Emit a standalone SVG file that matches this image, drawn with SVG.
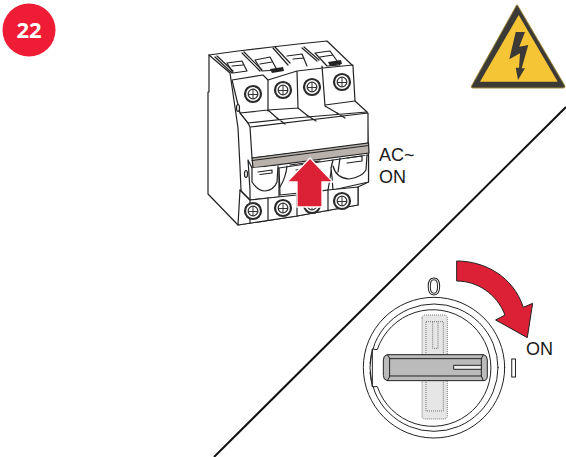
<svg xmlns="http://www.w3.org/2000/svg" width="566" height="457" viewBox="0 0 566 457">
<style>
.t{font-family:"Liberation Sans",Arial,sans-serif;font-size:18px;fill:#1a1a1a}
.l{fill:#fff;stroke:#222;stroke-width:1.200;stroke-linejoin:round;stroke-linecap:round}
.n{fill:none;stroke:#222;stroke-width:1.200;stroke-linejoin:round;stroke-linecap:round}
.kl{fill:#fff;stroke:#222;stroke-width:3;stroke-linejoin:round;stroke-linecap:round}
.kn{fill:none;stroke:#222;stroke-width:3;stroke-linejoin:round;stroke-linecap:round}
.r{fill:#dc2035;stroke:#222;stroke-width:3;stroke-linejoin:miter}
.d{fill:#e6e6e6;stroke:#555;stroke-width:2.400;stroke-dasharray:3 3}
</style>
<defs>
<filter id="gray" x="-20%" y="-20%" width="140%" height="140%"><feOffset dx="0" dy="0"/></filter>
<g id="screw">
<circle r="8" fill="#fff" stroke="#2a2a2a" stroke-width="2.200"/>
<circle r="4.800" fill="none" stroke="#333" stroke-width="1.300"/>
<path d="M-5 0.500H5M0 -5V5" fill="none" stroke="#333" stroke-width="1"/>
</g>
</defs>
<g id="divider"><line x1="566" y1="107" x2="214" y2="457" stroke="#111" stroke-width="2"/></g>

<g id="badge">
<circle cx="29" cy="30" r="26.500" fill="#ee1c35"/>
<text x="29" y="38" text-anchor="middle" style="font-family:'Open Sans',sans-serif;font-weight:700;font-size:22px;fill:#fff">22</text>
</g>

<g id="warning-sign">
<path d="M518 6 L565 86 Q565.500 88 563 88 L473 88 Q470.500 88 471.500 86 L515 8 Q517 3 518 6Z" fill="#3c3a36" stroke="#a38a3a" stroke-width="1"/>
<path d="M518.700 15 L557.700 81.700 L480 81.700Z" fill="#f6c536"/>
<path d="M515.700 32 L525 32 L519.300 46.700 L528.300 45 L521.700 68.300 L525 68.300 L518 80 L515.700 67.700 L519 67.700 L520 53.300 L509.300 59.300Z" fill="#3c3a36"/>
</g>

<g id="breaker">
<path class="l" d="M209 55 L238 51 L272 47 L298 44 L327 41 L353 66 L355 101 L367 112 L368.500 157 L368.500 182 L358 187 L358 205 L297 216 L238 225 L208 194 L208 92 L209 92Z"/>
<path class="n" d="M209 55 L230 73 L238 128 L240 167 L241 190 L240 223"/>
<path class="n" d="M232 80 L263 75 L268 80 L268 111 M232 80 L240 113 L268 110 L277 118 M240 113 L248 123"/>
<path class="n" d="M268 80 L297 71 M297 71 L323 68 L353 65 M297 71 L298 108 L308 116 M322 66 L325 106 L337 113 M268 110 L298 108 M325 105 L355 101"/>
<path class="n" d="M227 63 L242 61 L247 71 L233 73Z M232 66 L243 65 M255 60 L270 57 L277 70 L262 71Z M260 64 L272 62 M287 56 L302 54 L307 66 M293 59 L304 58 M315 53 L330 51 L340 65 L327 66Z M320 57 L333 55"/>
<path class="n" d="M215 57 L232 73 M217 56 L233 71 M242 53 L260 71 M244 52 L262 70 M273 48 L288 65 M275 47 L290 63 M302 48 L317 61 M304 47 L319 60"/>
<path d="M270 69 L283 67 L284 71 L272 73Z M328 62 L341 60 L342 64 L330 66Z" fill="#222"/>
<path class="l" d="M248 123 L250 127 L368 113 L368 144 L252 158 L250 127"/>
<path class="n" d="M277 118 L285 124 M308 116 L316 121 M337 113 L345 118 M240 113 L248 123 L295 118 L367 112"/>
<path d="M252 158 L368.500 143 L369 153 L253 168Z" fill="#b9b1ab" stroke="#222" stroke-width="1.200"/>
<path class="n" d="M252 160.500 L368.500 145.500"/>
<path class="l" d="M248 160 L250 190 L250 200 L279 197 L279 168 L252 168Z"/>
<path class="l" d="M252 168 L252 182 Q258 191 265 191 Q274 190 277 182 L278 166"/>
<path class="n" d="M258 172 L272 170 L272 173 L260 174.500"/>
<path class="l" d="M279 168 L280 195 L328 190 L333 160Z"/>
<path class="n" d="M280 187 Q286 177 287 166 M290 165 L320 161 M296 170 L312 168"/>
<path class="l" d="M333 160 L331 168 L332 177 L333 190 L368.500 182 L368.500 155Z"/>
<path class="l" d="M333 166 Q336 178 349 179 Q362 177 366 170 L367 155"/>
<path class="n" d="M340 158 L338 172 M347 158 L362 156 L362 161 L347 163"/>
<path class="l" d="M250 200 L268 198 L297 195 L328 190 L358 187 L358 205 L297 216 L238 225 L240 190Z"/>
<path class="n" d="M268 198 L268 220 M297 195 L297 216 M328 190 L328 211 M240 190 L250 200 L250 223"/>
<g id="screws">
<use href="#screw" x="253" y="94"/>
<use href="#screw" x="283" y="90"/>
<use href="#screw" x="312" y="87"/>
<use href="#screw" x="342" y="82"/>
<use href="#screw" x="253" y="211"/>
<use href="#screw" x="283" y="208"/>
<use href="#screw" x="312" y="205"/>
<use href="#screw" x="342" y="201"/>
</g>
<ellipse class="l" cx="238" cy="108" rx="1.500" ry="3.500"/>
<ellipse class="l" cx="246" cy="174" rx="1.500" ry="3.500"/>
<path d="M310 158 L287 182 L297 182 L297 207 L322 207 L322 182 L333 182Z" fill="#dc2035" stroke="#fff" stroke-width="1.300"/>
</g>

<g id="labels">
<text class="t" x="379" y="161">AC~</text>
<text class="t" x="379" y="183">ON</text>
</g>

<g id="knob" transform="translate(360 250) scale(.3333)">
<ellipse class="kl" cx="222" cy="353" rx="212" ry="211"/>
<ellipse class="kl" cx="222" cy="353" rx="192" ry="191"/>
<path class="kl" d="M52 298 A175 175 0 1 1 52 410 L37 410 L37 298Z" stroke-width="4"/>
<path d="M30 340 L37 298 M30 368 L37 410" class="kn"/>
<path class="d" d="M186 205 Q186 195 196 195 L252 195 Q262 195 262 205 L262 497 Q262 507 252 507 L196 507 Q186 507 186 497Z"/>
<path class="d" style="fill:none" d="M198 215 L250 215 L250 483 L198 483Z M218 215 L218 295 L234 295 L234 215"/>
<path d="M82 314 L370 314 Q382 316 382 330 L382 378 Q382 392 370 392 L82 392 Q70 390 70 376 L70 330 Q70 316 82 314Z" fill="#bbb" stroke="#222" stroke-width="3"/>
<path class="kn" d="M90 326 L364 326 L364 378 L90 378Z M82 314 L90 326 M82 392 L90 378 M370 314 L364 326 M370 392 L364 378"/>
<path d="M281 346 L364 346 L364 358 L281 358Z" fill="#eee" stroke="#222" stroke-width="3"/>
<path class="r" d="M290 33 C375 33 460 80 490 172 L518 160 L502 263 L407 210 L435 195 C410 130 350 93 290 93Z"/>
</g>

<g id="knob-labels">
<text filter="url(#gray)" x="434" y="294.500" text-anchor="middle" style="font-family:'Liberation Sans',sans-serif;font-size:24px;fill:#fff;stroke:#222;stroke-width:1">0</text>
<text filter="url(#gray)" x="513.500" y="377" text-anchor="middle" style="font-family:'Liberation Sans',sans-serif;font-weight:700;font-size:26px;fill:#fff;stroke:#222;stroke-width:1">I</text>
<text class="t" x="526" y="355">ON</text>
</g>
</svg>
